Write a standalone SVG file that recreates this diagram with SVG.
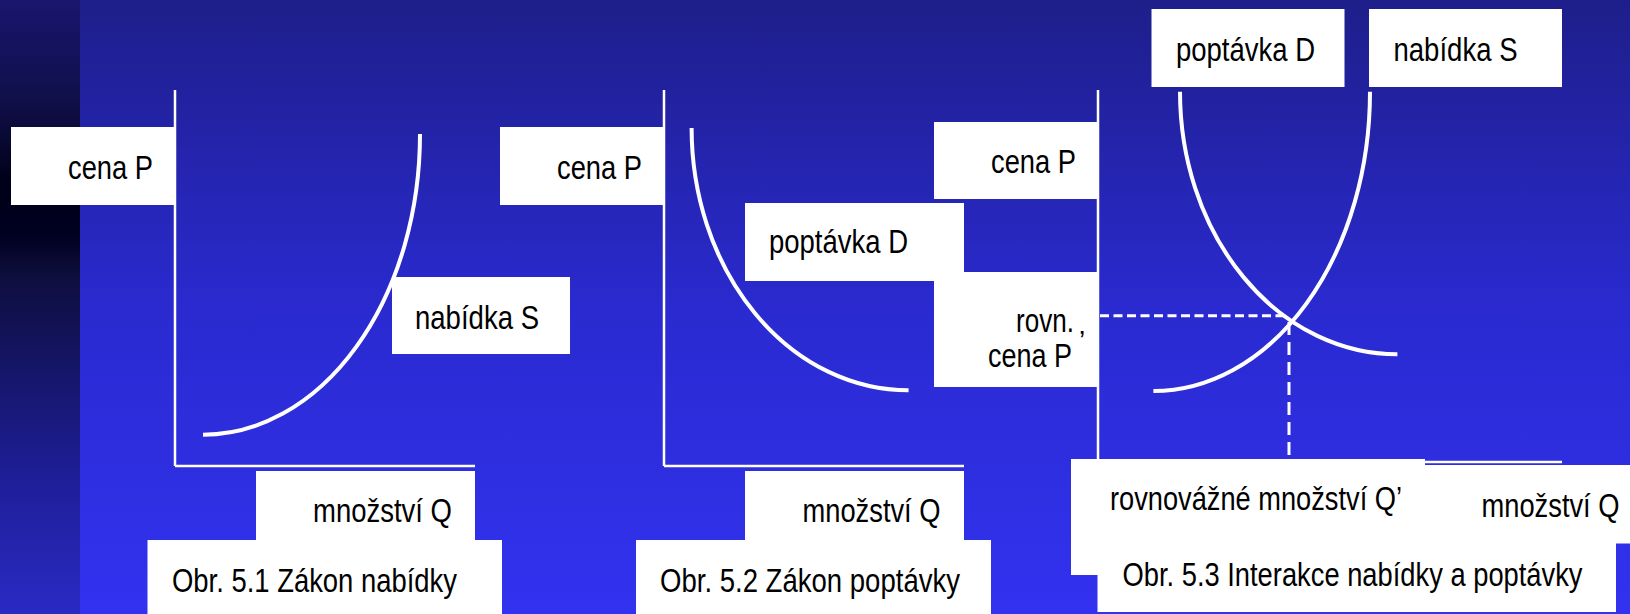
<svg xmlns="http://www.w3.org/2000/svg" width="1630" height="614" viewBox="0 0 1630 614">
<defs>
<linearGradient id="bg" x1="0" y1="0" x2="0" y2="1">
<stop offset="0" stop-color="#1e1e8a"/>
<stop offset="0.5" stop-color="#2a2ad0"/>
<stop offset="1" stop-color="#3232f0"/>
</linearGradient>
<linearGradient id="strip" x1="0" y1="0" x2="0" y2="1">
<stop offset="0" stop-color="#19166e"/>
<stop offset="0.17" stop-color="#0f0f48"/>
<stop offset="0.3" stop-color="#000018"/>
<stop offset="0.38" stop-color="#000020"/>
<stop offset="0.45" stop-color="#0e0e3e"/>
<stop offset="0.6" stop-color="#151568"/>
<stop offset="0.78" stop-color="#1e1e98"/>
<stop offset="1" stop-color="#2a2ac4"/>
</linearGradient>
<style>
.box{fill:#ffffff}
.t{font-family:"Liberation Sans",Arial,sans-serif;font-size:33px;fill:#000000}
.axis{stroke:#ffffff;stroke-width:2.5;fill:none}
.curve{stroke:#ffffff;stroke-width:4;fill:none}
.dash{stroke:#ffffff;stroke-width:3;fill:none}
</style>
</defs>
<rect x="0" y="0" width="1630" height="614" fill="url(#bg)"/>
<rect x="0" y="0" width="80" height="614" fill="url(#strip)"/>

<g id="connectors">
<line class="axis" x1="175" y1="90" x2="175" y2="466"/>
<line class="axis" x1="175" y1="466" x2="475" y2="466"/>
<line class="axis" x1="664" y1="90" x2="664" y2="466"/>
<line class="axis" x1="664" y1="466" x2="964" y2="466"/>
<line class="axis" x1="1098" y1="90" x2="1098" y2="462"/>
<line class="axis" x1="1098" y1="462" x2="1562" y2="462"/>
<path class="curve" d="M420,134 A217,300.7 0 0 1 203,434.7"/>
<path class="curve" d="M691.6,128 A217,262.3 0 0 0 908.6,390.3"/>
<path class="curve" d="M1180,91.7 A217.4,262.6 0 0 0 1397.4,354.3"/>
<path class="curve" d="M1370,91.7 A216.6,299.3 0 0 1 1153.4,391"/>
<line class="dash" x1="1100" y1="315.7" x2="1289" y2="315.7" stroke-dasharray="9 4.5"/>
<line class="dash" x1="1289" y1="322" x2="1289" y2="458" stroke-dasharray="13 7"/>
</g>

<g id="fig1-cena">
<rect class="box" x="11" y="127" width="164" height="78"/>
<text class="t" x="68" y="179" textLength="85" lengthAdjust="spacingAndGlyphs">cena P</text>
</g>
<g id="fig1-nabidka">
<rect class="box" x="392" y="277" width="178" height="77"/>
<text class="t" x="415" y="329" textLength="124" lengthAdjust="spacingAndGlyphs">nabídka S</text>
</g>
<g id="fig1-mnozstvi">
<rect class="box" x="256" y="471" width="219" height="70"/>
<text class="t" x="313" y="522" textLength="139" lengthAdjust="spacingAndGlyphs">množství Q</text>
</g>
<g id="fig1-caption">
<rect class="box" x="147.5" y="540" width="354.5" height="74"/>
<text class="t" x="172" y="592" textLength="285" lengthAdjust="spacingAndGlyphs">Obr. 5.1 Zákon nabídky</text>
</g>

<g id="fig2-cena">
<rect class="box" x="500" y="127" width="163" height="78"/>
<text class="t" x="557" y="179" textLength="85" lengthAdjust="spacingAndGlyphs">cena P</text>
</g>
<g id="fig2-poptavka">
<rect class="box" x="745" y="203" width="219" height="78"/>
<text class="t" x="769" y="253" textLength="139" lengthAdjust="spacingAndGlyphs">poptávka D</text>
</g>
<g id="fig2-mnozstvi">
<rect class="box" x="745" y="471" width="219" height="70"/>
<text class="t" x="802.5" y="522" textLength="138" lengthAdjust="spacingAndGlyphs">množství Q</text>
</g>
<g id="fig2-caption">
<rect class="box" x="636" y="540" width="355" height="74"/>
<text class="t" x="660" y="592" textLength="300" lengthAdjust="spacingAndGlyphs">Obr. 5.2 Zákon poptávky</text>
</g>

<g id="fig3-cena">
<rect class="box" x="934" y="122" width="163" height="77"/>
<text class="t" x="991" y="173" textLength="85" lengthAdjust="spacingAndGlyphs">cena P</text>
</g>
<g id="fig3-rovn-cena">
<rect class="box" x="934" y="272" width="163" height="115"/>
<text class="t" x="1016" y="332" textLength="58" lengthAdjust="spacingAndGlyphs">rovn.</text>
<text class="t" x="988" y="367" textLength="84" lengthAdjust="spacingAndGlyphs">cena P</text>
<text class="t" x="1079" y="350" style="font-size:28px">’</text>
</g>
<g id="fig3-poptavka">
<rect class="box" x="1151.5" y="9" width="193" height="78"/>
<text class="t" x="1176" y="61" textLength="139" lengthAdjust="spacingAndGlyphs">poptávka D</text>
</g>
<g id="fig3-nabidka">
<rect class="box" x="1369" y="9" width="193" height="78"/>
<text class="t" x="1393.5" y="61" textLength="124" lengthAdjust="spacingAndGlyphs">nabídka S</text>
</g>
<g id="fig3-rovn-mnozstvi">
<rect class="box" x="1071" y="459" width="354" height="116"/>
<text class="t" x="1110" y="510" textLength="292" lengthAdjust="spacingAndGlyphs">rovnovážné množství Q’</text>
</g>
<g id="fig3-mnozstvi">
<rect class="box" x="1425" y="465" width="205" height="78.5"/>
<text class="t" x="1481.5" y="517" textLength="138" lengthAdjust="spacingAndGlyphs">množství Q</text>
</g>
<g id="fig3-caption">
<rect class="box" x="1097.5" y="540" width="518.5" height="72"/>
<text class="t" x="1122.5" y="586" textLength="460" lengthAdjust="spacingAndGlyphs">Obr. 5.3 Interakce nabídky a poptávky</text>
</g>
</svg>
